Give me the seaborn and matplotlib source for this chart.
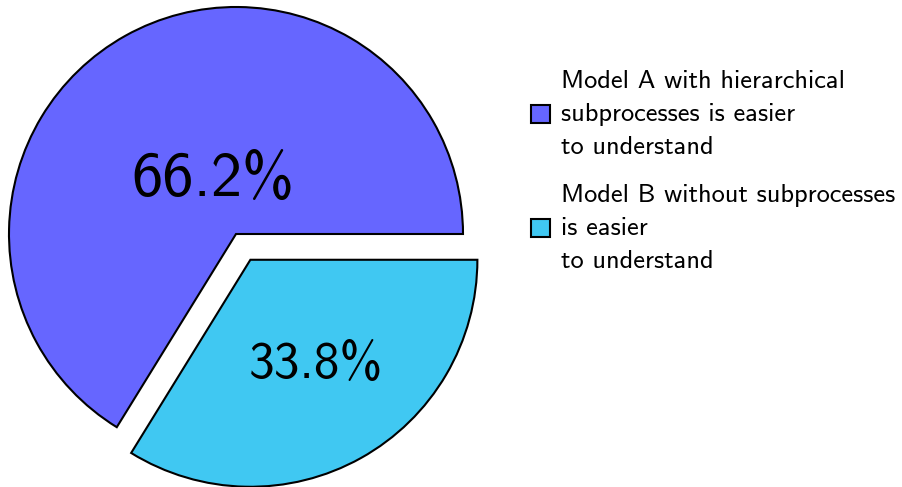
import numpy as np
import matplotlib
matplotlib.use('Agg')
import matplotlib.pyplot as plt
import seaborn as sns

labels = ['Model A with hierarchical\nsubprocesses is easier\nto understand',
          'Model B without subprocesses\nis easier\nto understand']
shares = [66.2, 33.8]
pct_text = ['66.2%', '33.8%']
colors = ['#6666FF', '#40C8F2']

sns.set_theme(style='white')
plt.rcParams['font.family'] = ['cmss10', 'DejaVu Sans']
plt.rcParams['axes.unicode_minus'] = False
plt.rcParams['text.color'] = 'black'

fig = plt.figure(figsize=(9.02, 4.87), dpi=100)
ax = fig.add_axes([0, 0, 1, 1])

explode = [0, 0.13]
wedges, _ = ax.pie(shares, colors=colors, explode=explode, startangle=0,
                   counterclock=True,
                   wedgeprops=dict(edgecolor='black', linewidth=1.5))

# percentage labels placed along each wedge's middle angle
label_dist = [0.27, 0.53]
label_size = [45, 37]
start = 0.0
for w, s, txt, d, ex, fs in zip(wedges, shares, pct_text, label_dist, explode, label_size):
    mid = np.deg2rad(start + s * 3.6 / 2)
    cx, cy = ex * np.cos(mid), ex * np.sin(mid)
    ax.text(cx + d * np.cos(mid) + 0.03, cy + d * np.sin(mid), txt,
            ha='center', va='center', fontsize=fs, color='black')
    start += s * 3.6

ax.set_xlim(-236 / 227, (902 - 236) / 227)
ax.set_ylim((234 - 487) / 227, 234 / 227)
ax.set_aspect('equal')
ax.axis('off')

leg = fig.legend(wedges, labels, loc='upper left', bbox_to_anchor=(0.589, 0.857),
                 frameon=False, fontsize=19, borderpad=0, borderaxespad=0,
                 handlelength=0.7, handleheight=0.7, handletextpad=0.42,
                 labelspacing=0.95, labelcolor='black')
for t in leg.get_texts():
    t.set_linespacing(1.56)

fig.savefig('out.png', dpi=100)
